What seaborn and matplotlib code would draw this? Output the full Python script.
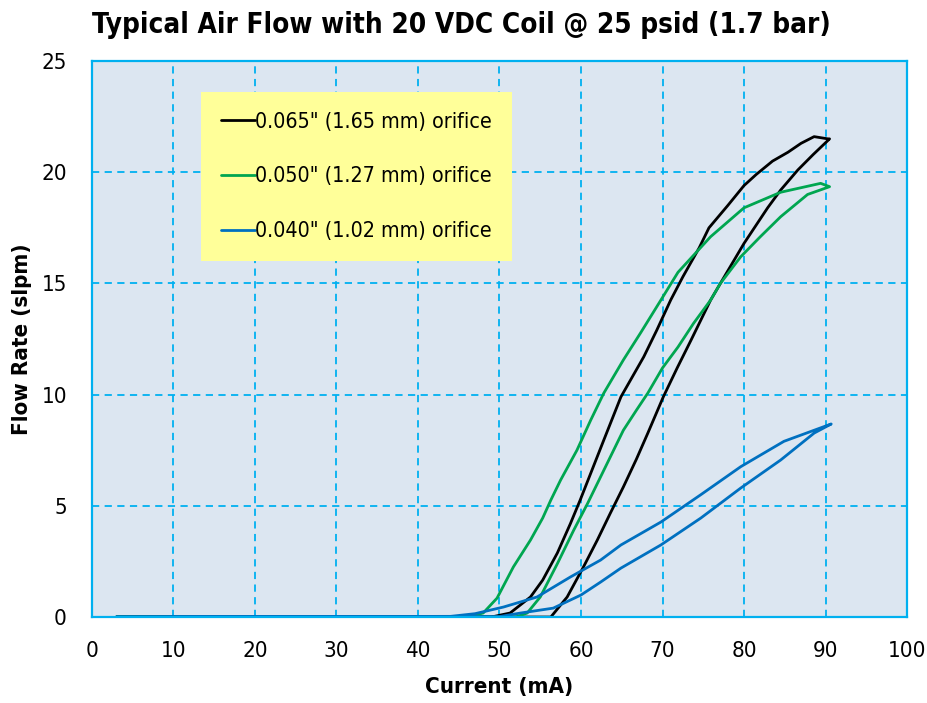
import numpy as np
import pandas as pd
import matplotlib
matplotlib.use("Agg")
import matplotlib.pyplot as plt
import seaborn as sns

# ---- data ----
labels = ['0.065" (1.65 mm) orifice', '0.050" (1.27 mm) orifice', '0.040" (1.02 mm) orifice']
colors = ["#000000", "#00a650", "#0070c0"]

x_065 = [3, 56.3, 58.3, 60.3, 62.0, 63.6, 65.2, 66.8, 68.2, 70.1, 71.8, 73.5, 75.9, 77.1, 80.0, 82.9, 84.5, 86.6, 88.5, 90.5,
         90.3, 88.6, 87.0, 85.4, 83.5, 81.5, 80.0, 78.0, 75.7, 74.5, 72.5, 71.0, 69.3, 67.7, 66.3, 64.9, 62.8, 61.2, 59.9, 58.7, 57.1, 55.3, 53.8, 51.3, 49.0, 3]
y_065 = [0, 0, 0.9, 2.25, 3.46, 4.67, 5.85, 7.1, 8.27, 9.9, 11.2, 12.45, 14.25, 15.0, 16.8, 18.4, 19.2, 20.1, 20.8, 21.5,
         21.5, 21.6, 21.3, 20.9, 20.5, 19.9, 19.4, 18.5, 17.5, 16.6, 15.3, 14.25, 12.9, 11.7, 10.8, 9.9, 7.96, 6.47, 5.26, 4.2, 2.88, 1.66, 0.9, 0.18, 0, 0]

x_050 = [3, 52.0, 53.4, 55.0, 57.1, 59.1, 60.8, 62.4, 63.6, 65.2, 66.8, 68.2, 70.0, 71.9, 73.8, 75.9, 77.1, 79.6, 82.0, 84.5, 87.8, 90.5,
         89.4, 84.5, 80.0, 75.9, 71.9, 69.8, 67.3, 65.2, 62.8, 61.2, 59.5, 57.5, 56.3, 55.3, 53.8, 51.7, 49.7, 48.0, 46.0, 3]
y_050 = [0, 0, 0.18, 0.9, 2.4, 3.9, 5.1, 6.3, 7.2, 8.4, 9.3, 10.07, 11.2, 12.14, 13.2, 14.25, 15.0, 16.2, 17.1, 18.0, 19.0, 19.35,
         19.5, 19.1, 18.4, 17.1, 15.5, 14.25, 12.77, 11.56, 10.07, 8.86, 7.5, 6.16, 5.26, 4.45, 3.46, 2.25, 0.85, 0.18, 0, 0]

x_040 = [3, 50.0, 52.6, 56.6, 60.0, 62.4, 64.9, 69.8, 74.7, 79.6, 84.5, 88.6, 90.7,
         84.9, 79.6, 74.7, 69.8, 64.9, 62.4, 58.7, 54.6, 50.5, 47.0, 44.0, 3]
y_040 = [0, 0.02, 0.18, 0.4, 0.99, 1.57, 2.2, 3.24, 4.45, 5.8, 7.06, 8.27, 8.68,
         7.9, 6.76, 5.5, 4.27, 3.24, 2.56, 1.8, 0.9, 0.45, 0.15, 0.03, 0]

x_ticks = [0, 10, 20, 30, 40, 50, 60, 70, 80, 90, 100]
y_ticks = [0, 5, 10, 15, 20, 25]

title = "Typical Air Flow with 20 VDC Coil @ 25 psid (1.7 bar)"
xlabel = "Current (mA)"
ylabel = "Flow Rate (slpm)"

# ---- plot ----
sns.set_theme(style="white")
plt.rcParams["font.family"] = ["DejaVu Sans"]
plt.rcParams["font.stretch"] = "condensed"
plt.rcParams["text.color"] = "#000000"
plt.rcParams["axes.labelcolor"] = "#000000"

fig = plt.figure(figsize=(9.28, 7.03), dpi=100)
ax = fig.add_axes([0.0991, 0.1223, 0.8783, 0.7909])
ax.set_facecolor("#dce6f1")

series = [(x_065, y_065), (x_050, y_050), (x_040, y_040)]
for (xs, ys), lab, col in zip(series, labels, colors):
    df = pd.DataFrame({"x": xs, "y": ys})
    sns.lineplot(data=df, x="x", y="y", sort=False, estimator=None, ax=ax,
                 color=col, linewidth=2.0, label=lab)

ax.set_xlim(0, 100)
ax.set_ylim(0, 25)
ax.set_xticks(x_ticks)
ax.set_yticks(y_ticks)
ax.tick_params(axis="both", length=0, labelsize=16, colors="#000000")
ax.tick_params(axis="x", pad=17)
ax.tick_params(axis="y", pad=18)

ax.grid(True, color="#00b0f0", linestyle=(0, (4, 3)), linewidth=1.3)
ax.set_axisbelow(True)
for sp in ax.spines.values():
    sp.set_color("#00b0f0")
    sp.set_linewidth(1.6)

ax.set_xlabel(xlabel, fontsize=16, fontweight="bold", labelpad=12)
ax.set_ylabel(ylabel, fontsize=16, fontweight="bold", labelpad=7)

fig.suptitle(title, x=0.497, y=0.985, fontsize=20, fontweight="bold")

leg = ax.legend(loc="upper left", bbox_to_anchor=(0.134, 0.944), fontsize=15.4,
                frameon=True, fancybox=False, handlelength=1.6, handletextpad=0.0,
                labelspacing=1.62, borderpad=0.92, borderaxespad=0)
leg.get_frame().set_facecolor("#ffff99")
leg.get_frame().set_edgecolor("none")
leg.get_frame().set_alpha(1)

fig.savefig("out.png", dpi=100)
